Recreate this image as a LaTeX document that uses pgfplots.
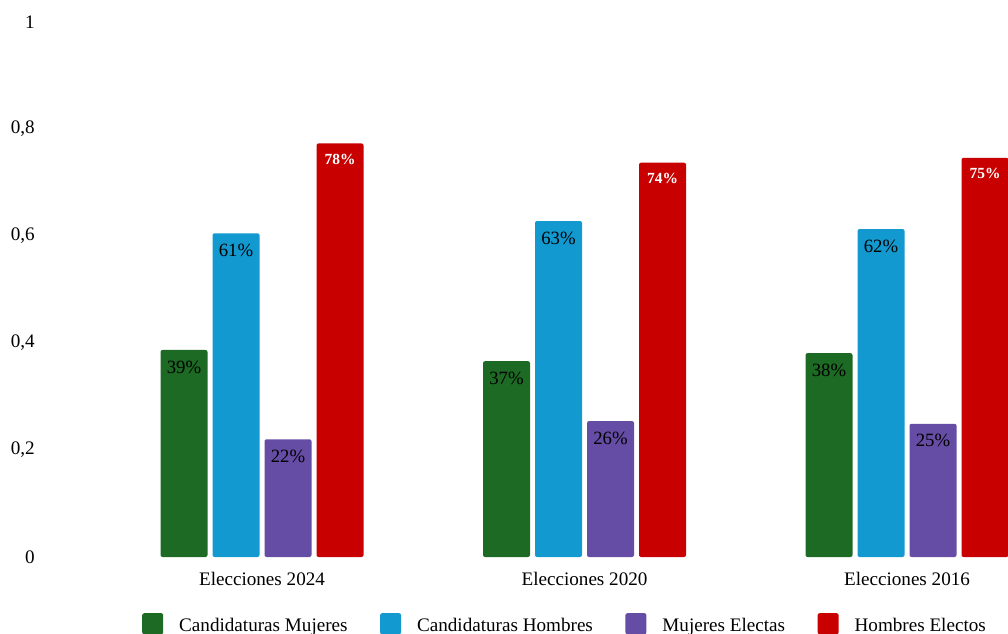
\documentclass[border=0pt]{standalone}
\usepackage{pgfplots}
\pgfplotsset{compat=1.18}
\usepackage{fontspec}
\setmainfont{Liberation Serif}
\definecolor{cgreen}{HTML}{1C6A24}
\definecolor{cblue}{HTML}{1199D0}
\definecolor{cpurple}{HTML}{654CA4}
\definecolor{cred}{HTML}{C90000}
\newcommand\chartfont{\fontsize{19.2}{23}\selectfont}
\newcommand\barfont{\fontsize{18.8}{22}\selectfont}
\begin{document}
\begin{tikzpicture}
\path[use as bounding box] (-40bp,-77bp) rectangle (968bp,557bp);
\clip (-40bp,-77bp) rectangle (968bp,557bp);
\begin{axis}[
  at={(0,0)}, anchor=south west,
  x=322.5bp, y=535bp,
  xmin=-0.6884, xmax=2.3132, ymin=0, ymax=1,
  axis line style={draw=none},
  major tick length=0pt,
  ytick={0,0.2,0.4,0.6,0.8,1},
  xtick={0,1,2},
  xticklabels={Elecciones 2024, Elecciones 2020, Elecciones 2016},
  /pgf/number format/use comma,
  /pgf/number format/assume math mode=true,
  tick label style={font=\chartfont, inner sep=0pt},
  yticklabel style={anchor=east, xshift=-5bp},
  xticklabel style={anchor=north, yshift=-15bp},
  ybar, bar width=47bp,
  point meta=explicit symbolic,
  nodes near coords,
  every node near coord/.append style={anchor=center, yshift=-17bp, font=\barfont, text=black},
  legend columns=4,
  legend cell align=left,
  legend style={at={(0.1054,-0.1047)}, anchor=north west, draw=none, fill=none,
    inner sep=0pt, font=\chartfont, nodes={inner sep=0pt},
    /tikz/every odd column/.append style={column sep=16bp},
    /tikz/every even column/.append style={column sep=32.5bp}},
  legend image code/.code={\fill[#1,rounded corners=2bp] (0bp,-9bp) rectangle (21bp,12bp);},
]
\addplot[fill=cgreen, draw=none, rounded corners=2bp, bar shift=-78bp]
  coordinates {(0,0.387)[39\%] (1,0.366)[37\%] (2,0.381)[38\%]};
\addlegendentry{Candidaturas Mujeres}
\addplot[fill=cblue, draw=none, rounded corners=2bp, bar shift=-26bp]
  coordinates {(0,0.605)[61\%] (1,0.628)[63\%] (2,0.613)[62\%]};
\addlegendentry{Candidaturas Hombres}
\addplot[fill=cpurple, draw=none, rounded corners=2bp, bar shift=26bp]
  coordinates {(0,0.220)[22\%] (1,0.254)[26\%] (2,0.249)[25\%]};
\addlegendentry{Mujeres Electas}
\addplot[fill=cred, draw=none, rounded corners=2bp, bar shift=78bp,
  every node near coord/.append style={text=white, yshift=1bp, font=\bfseries\fontsize{15.5}{18}\selectfont}]
  coordinates {(0,0.773)[78\%] (1,0.737)[74\%] (2,0.746)[75\%]};
\addlegendentry{Hombres Electos}
\end{axis}
\end{tikzpicture}
\end{document}
